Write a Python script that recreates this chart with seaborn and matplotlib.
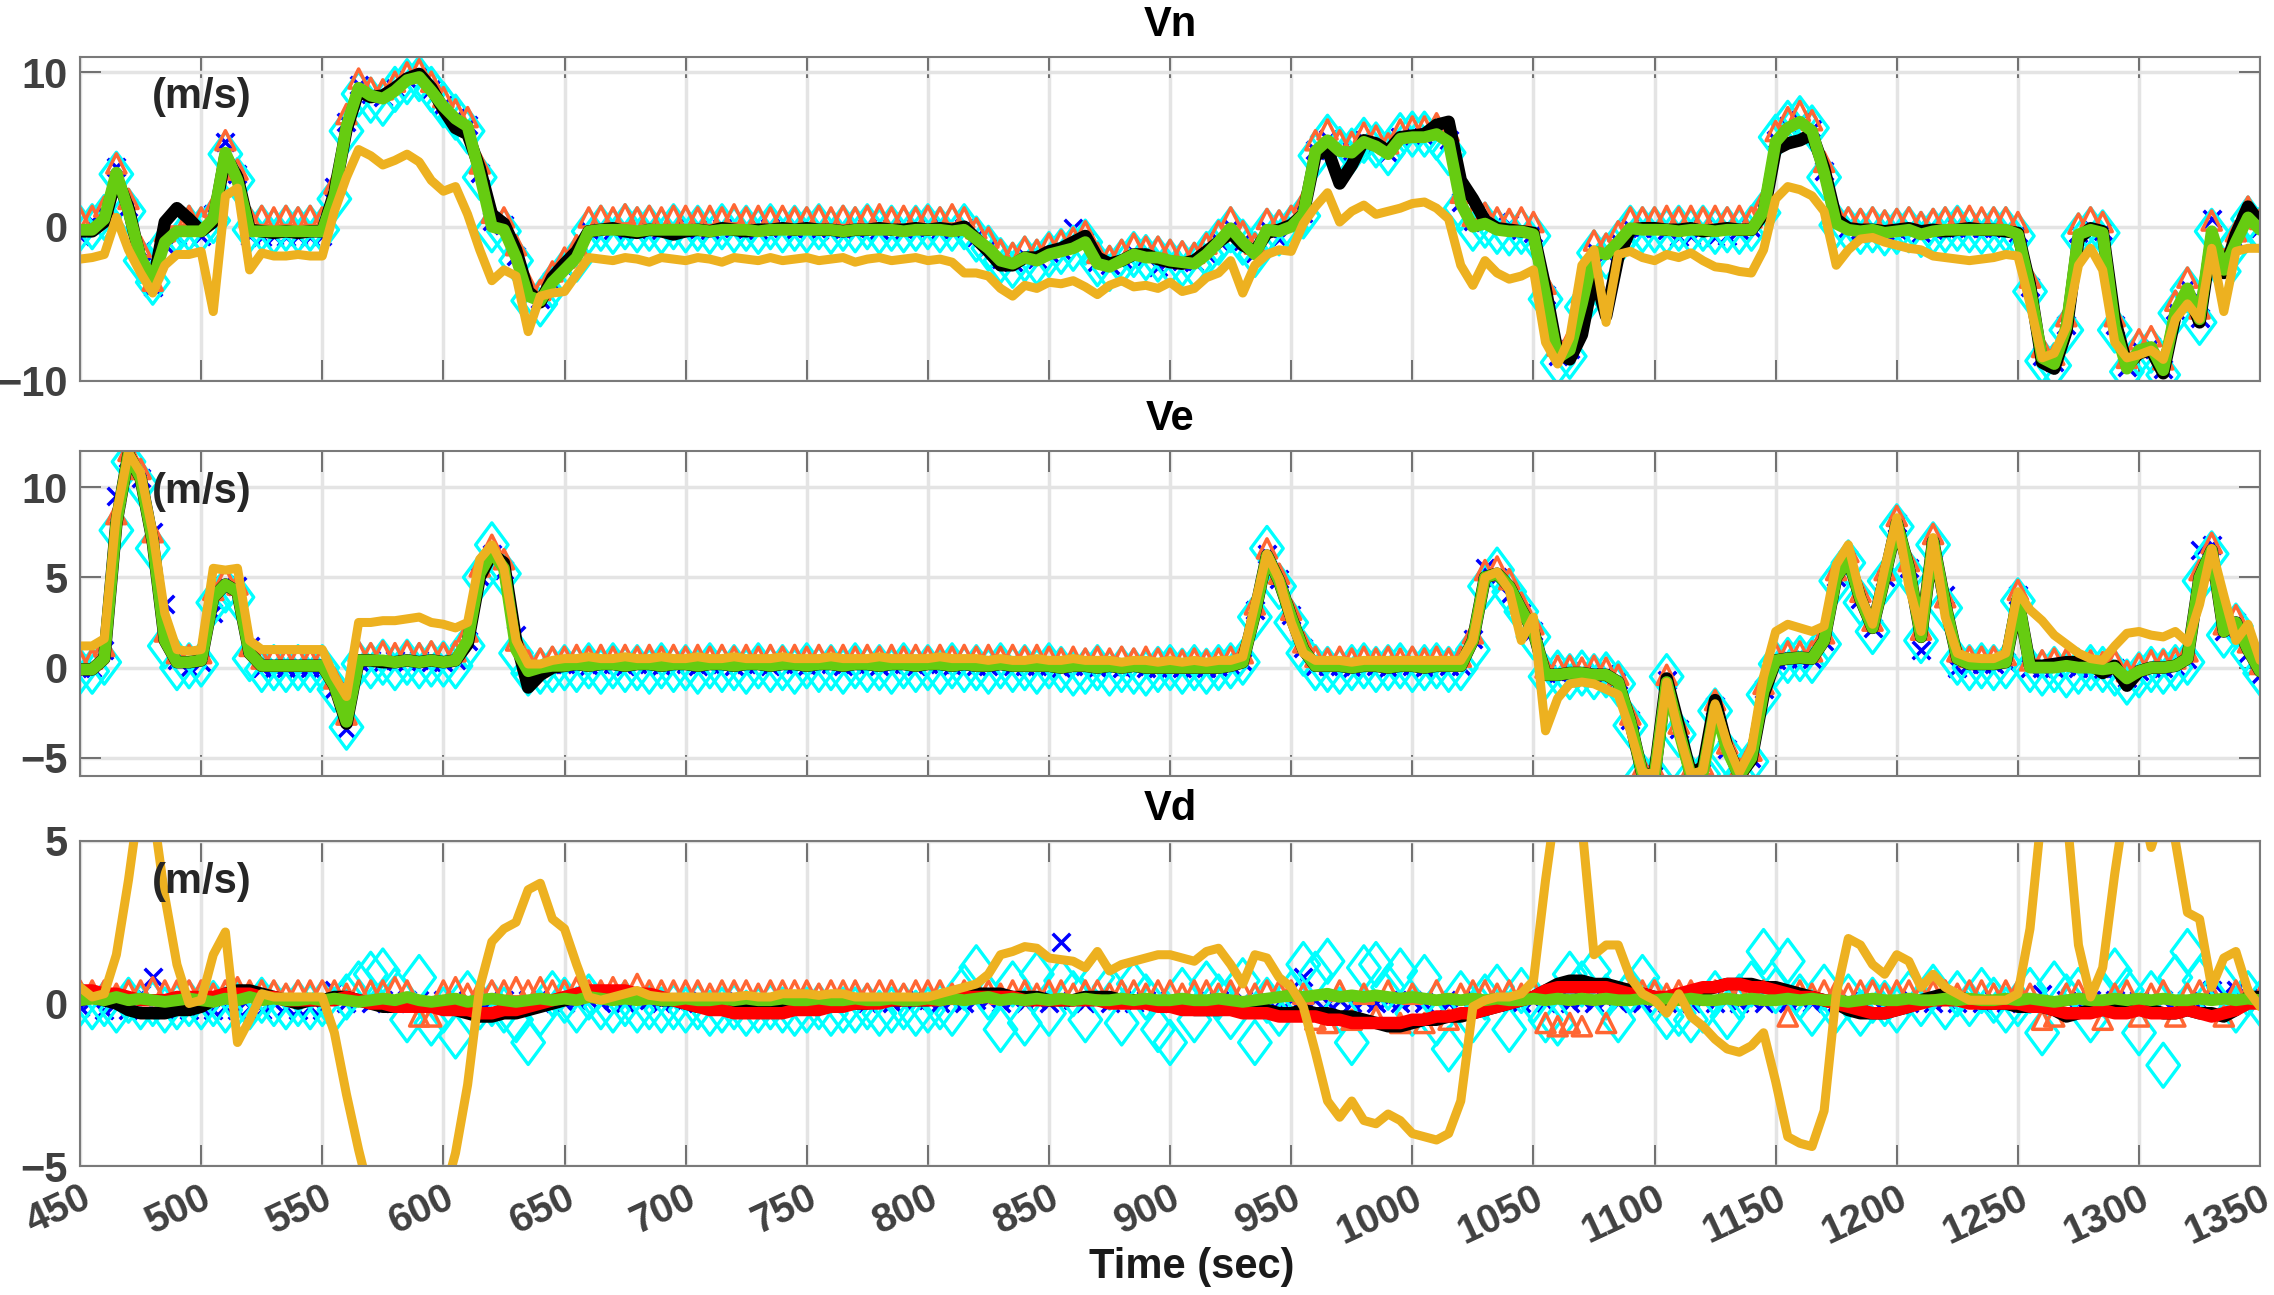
import numpy as np
import seaborn as sns
import matplotlib.pyplot as plt
from matplotlib.path import Path

# sample times (s), one value every 5 s, rows below hold 50 s each
time_s = list(range(450, 1351, 5))

# ---------------- Vn ----------------
vn_green = [
    -0.2, -0.2, 0.5, 3.5, 1.0, -2.0, -3.5, -1.0, -0.3, -0.3,
    -0.3, 0.5, 4.8, 3.0, -0.3, -0.3, -0.3, -0.3, -0.3, -0.3,
    -0.3, 2.0, 6.5, 9.0, 8.5, 8.3, 8.8, 9.5, 9.7, 8.8,
    7.8, 7.0, 6.5, 3.4, 0.0, -0.2, -2.0, -4.5, -4.8, -3.6,
    -2.8, -2.0, -0.3, -0.2, -0.2, -0.2, -0.3, -0.2, -0.2, -0.2,
    -0.2, -0.2, -0.3, -0.2, -0.2, -0.2, -0.3, -0.2, -0.2, -0.2,
    -0.2, -0.2, -0.2, -0.3, -0.2, -0.2, -0.2, -0.2, -0.3, -0.2,
    -0.2, -0.2, -0.3, -0.2, -0.8, -1.4, -2.2, -2.4, -2.0, -2.2,
    -1.8, -1.6, -1.4, -1.0, -2.4, -2.6, -2.2, -1.8, -2.0, -2.0,
    -2.2, -2.3, -2.4, -1.8, -1.0, -0.1, -1.0, -1.8, -0.2, -0.3,
    0.0, 0.8, 4.9, 5.6, 4.9, 4.8, 5.5, 5.2, 4.7, 5.7,
    5.8, 5.8, 6.0, 5.5, 1.5, 0.0, 0.2, -0.2, -0.3, -0.3,
    -0.5, -4.5, -8.5, -8.0, -5.0, -1.6, -1.8, -1.0, -0.1, -0.2,
    -0.2, -0.2, -0.3, -0.2, -0.2, -0.3, -0.2, -0.2, -0.2, 1.0,
    5.5, 6.4, 6.8, 6.2, 3.5, 0.2, -0.2, -0.3, -0.2, -0.4,
    -0.3, -0.2, -0.5, -0.3, -0.2, -0.2, -0.2, -0.2, -0.2, -0.2,
    -0.5, -4.0, -8.5, -8.9, -6.5, -0.5, -0.2, -0.4, -6.5, -9.2,
    -8.0, -7.8, -9.3, -5.5, -4.0, -6.0, -0.3, -2.8, -1.0, 0.6,
    -0.2]
vn_black = [
    -0.3, -0.3, 0.3, 3.2, 1.2, -2.2, -3.8, 0.3, 1.2, 0.5,
    -0.3, 0.3, 4.6, 3.2, -0.2, -0.3, -0.4, -0.3, -0.4, -0.3,
    -0.3, 2.2, 6.3, 8.8, 8.4, 8.5, 9.0, 9.6, 9.9, 9.0,
    7.6, 6.4, 6.0, 3.8, 0.8, 0.2, -1.5, -4.2, -4.9, -3.3,
    -2.4, -1.6, -0.3, -0.2, -0.1, -0.3, -0.4, -0.2, -0.3, -0.5,
    -0.3, -0.2, -0.3, -0.1, -0.2, -0.3, -0.2, -0.2, -0.1, -0.2,
    -0.1, -0.2, -0.2, -0.3, -0.2, -0.2, -0.1, -0.2, -0.2, -0.1,
    -0.2, -0.1, -0.2, 0.0, -0.8, -1.6, -2.5, -2.5, -2.0, -2.0,
    -1.6, -1.4, -1.0, -0.6, -2.0, -2.4, -2.2, -1.8, -1.8, -2.1,
    -2.3, -2.4, -2.2, -1.6, -1.0, -0.4, -1.2, -1.6, -0.4, -0.2,
    0.1, 0.8, 4.6, 5.0, 2.8, 4.0, 5.6, 5.4, 4.9, 5.8,
    5.9, 6.0, 6.6, 6.8, 3.0, 1.8, 0.4, -0.1, -0.2, -0.3,
    -0.4, -4.0, -8.2, -8.6, -7.0, -3.0, -5.8, -2.0, -0.2, -0.1,
    -0.1, -0.2, -0.2, -0.1, -0.3, -0.2, -0.1, -0.2, -0.2, 0.8,
    5.0, 5.4, 5.6, 6.0, 3.8, 0.5, -0.1, -0.2, -0.2, -0.3,
    -0.2, -0.1, -0.3, -0.2, -0.3, -0.2, -0.1, -0.2, -0.2, -0.3,
    -0.4, -3.8, -8.8, -9.2, -6.8, -0.8, -0.1, -0.3, -6.0, -9.0,
    -8.2, -8.0, -9.5, -5.8, -4.2, -6.2, -0.8, -3.0, -0.5, 1.3,
    0.2]
vn_gold = [
    -2.1, -2.0, -1.8, 0.6, -1.5, -3.0, -4.3, -2.5, -1.8, -1.8,
    -1.6, -5.5, 2.0, 2.5, -2.8, -1.7, -1.9, -1.9, -1.8, -1.9,
    -1.9, 1.0, 3.2, 5.0, 4.6, 4.0, 4.3, 4.7, 4.2, 3.0,
    2.3, 2.6, 0.8, -1.5, -3.5, -2.8, -3.2, -6.8, -4.5, -4.3,
    -4.2, -3.1, -2.0, -2.1, -2.2, -2.0, -2.1, -2.3, -2.0, -2.1,
    -2.2, -2.0, -2.1, -2.3, -2.0, -2.1, -2.2, -2.0, -2.2, -2.1,
    -2.0, -2.2, -2.1, -2.0, -2.3, -2.1, -2.0, -2.2, -2.1, -2.0,
    -2.2, -2.1, -2.3, -3.0, -3.0, -3.2, -4.0, -4.5, -3.8, -4.0,
    -3.6, -3.7, -3.5, -3.9, -4.4, -3.8, -3.5, -3.9, -3.8, -4.0,
    -3.6, -4.2, -4.0, -3.3, -3.0, -2.2, -4.3, -2.5, -1.8, -1.5,
    -1.6, 0.2, 1.3, 2.2, 0.3, 1.0, 1.4, 0.8, 1.0, 1.2,
    1.5, 1.6, 1.2, 0.5, -2.5, -3.8, -2.2, -3.0, -3.4, -3.2,
    -2.8, -7.5, -8.9, -7.2, -2.5, -1.5, -6.2, -1.8, -1.6, -2.0,
    -2.2, -1.8, -2.0, -1.7, -2.2, -2.6, -2.7, -2.9, -3.0, -1.5,
    1.8, 2.6, 2.4, 2.0, 1.0, -2.5, -1.5, -0.8, -0.7, -1.0,
    -1.2, -1.4, -1.5, -1.9, -2.0, -2.1, -2.2, -2.1, -2.0, -1.8,
    -1.9, -5.0, -8.5, -8.2, -6.5, -2.5, -1.4, -2.8, -7.5, -8.5,
    -8.3, -8.0, -8.6, -6.0, -5.0, -6.0, -1.4, -5.5, -1.6, -1.4,
    -1.4]
vn_tri = [
    0.6, 0.7, 1.3, 4.1, 1.8, -1.3, -3.5, -0.3, 0.6, 0.7,
    0.6, 1.3, 5.6, 3.7, 0.6, 0.7, 0.6, 0.7, 0.6, 0.7,
    0.6, 2.8, 7.3, 9.6, 9.0, 8.9, 9.4, 10.0, 10.2, 9.4,
    8.4, 7.6, 7.1, 4.1, 0.9, 0.6, -1.2, -3.7, -4.1, -2.9,
    -2.0, -1.2, 0.6, 0.7, 0.6, 0.8, 0.6, 0.7, 0.6, 0.7,
    0.7, 0.6, 0.7, 0.6, 0.8, 0.6, 0.7, 0.6, 0.7, 0.6,
    0.6, 0.7, 0.6, 0.7, 0.6, 0.7, 0.8, 0.6, 0.7, 0.6,
    0.7, 0.6, 0.8, 0.6, -0.1, -0.7, -1.5, -1.7, -1.3, -1.5,
    -1.1, -0.9, -0.7, -0.3, -1.7, -1.9, -1.5, -1.1, -1.3, -1.3,
    -1.5, -1.6, -1.7, -1.1, -0.3, 0.6, -0.3, -1.1, 0.5, 0.4,
    0.7, 1.6, 5.6, 6.3, 5.6, 5.5, 6.1, 5.9, 5.4, 6.3,
    6.5, 6.5, 6.7, 6.2, 2.2, 0.7, 0.9, 0.6, 0.5, 0.6,
    0.3, -3.7, -7.7, -7.3, -4.3, -0.9, -1.1, -0.3, 0.6, 0.6,
    0.6, 0.7, 0.6, 0.7, 0.6, 0.7, 0.6, 0.7, 0.6, 1.7,
    6.2, 7.1, 7.5, 6.9, 4.2, 0.9, 0.6, 0.5, 0.6, 0.4,
    0.5, 0.6, 0.3, 0.5, 0.6, 0.6, 0.7, 0.6, 0.6, 0.6,
    0.3, -3.3, -7.8, -8.3, -5.8, 0.2, 0.6, 0.3, -5.8, -8.5,
    -7.3, -7.1, -8.6, -4.8, -3.3, -5.3, 0.4, -2.1, -0.3, 1.3,
    0.5]
vn_dia = [
    -0.1, 0.0, 0.6, 3.4, 1.0, -2.2, -3.6, -1.2, -0.3, -0.1,
    -0.2, 0.4, 4.7, 3.0, -0.2, -0.1, -0.3, -0.1, -0.2, -0.1,
    -0.2, 1.8, 6.2, 8.6, 8.2, 8.0, 8.9, 9.4, 9.6, 8.9,
    7.9, 7.1, 6.2, 3.2, -0.2, -0.3, -2.2, -4.8, -5.0, -3.8,
    -2.9, -2.1, -0.3, -0.1, -0.3, 0.0, -0.2, -0.1, -0.3, 0.0,
    -0.2, -0.1, -0.3, 0.0, -0.2, -0.1, -0.3, 0.0, -0.2, -0.1,
    -0.2, 0.0, -0.3, -0.1, -0.2, 0.0, -0.3, -0.1, -0.2, -0.1,
    0.0, -0.2, -0.1, 0.0, -0.8, -1.4, -2.2, -2.5, -2.1, -2.3,
    -1.8, -1.6, -1.4, -1.0, -2.4, -2.7, -2.3, -1.8, -2.0, -2.1,
    -2.3, -2.4, -2.5, -1.8, -1.0, -0.2, -1.0, -1.8, -0.3, -0.4,
    -0.1, 0.7, 4.6, 5.8, 5.0, 4.9, 5.6, 5.3, 4.8, 5.9,
    6.0, 6.0, 5.8, 4.8, 1.2, -0.1, 0.1, -0.3, -0.4, -0.3,
    -0.6, -4.7, -8.8, -8.4, -5.2, -1.7, -1.9, -1.1, -0.1, -0.2,
    -0.2, -0.3, -0.1, -0.3, -0.1, -0.3, -0.2, -0.3, -0.1, 0.9,
    5.8, 6.7, 7.0, 6.4, 3.2, 0.1, -0.2, -0.3, -0.2, -0.4,
    -0.3, -0.2, -0.5, -0.3, -0.2, -0.1, -0.2, -0.3, -0.2, -0.2,
    -0.6, -4.2, -8.7, -9.0, -6.7, -0.6, -0.2, -0.4, -6.7, -9.4,
    -8.2, -8.0, -9.6, -5.6, -4.1, -6.2, -0.3, -2.9, -1.1, 0.5,
    -0.2]
vn_x = [
    -0.6, 0.4, 0.8, 3.9, 1.3, -1.6, -3.9, -1.2, -0.6, 0.4,
    -0.6, 0.8, 5.5, 3.4, -0.6, -0.7, -0.6, -0.7, -0.6, -0.7,
    -0.6, 2.6, 6.8, 9.2, 8.6, 8.4, 9.0, 9.6, 9.8, 8.9,
    7.9, 7.1, 6.6, 3.5, 0.4, 0.1, -1.9, -4.4, -4.7, -3.5,
    -2.7, -1.9, -0.2, -0.1, -0.2, -0.1, -0.2, -0.1, -0.2, -0.1,
    -0.1, -0.2, -0.2, -0.1, -0.1, -0.2, -0.2, -0.1, -0.1, -0.2,
    -0.1, -0.2, -0.1, -0.2, -0.1, -0.1, -0.2, -0.1, -0.2, -0.1,
    -0.1, -0.2, -0.2, -0.1, -0.7, -1.3, -2.1, -2.3, -1.9, -2.1,
    -1.7, -1.5, -0.1, -0.9, -2.3, -2.5, -2.1, -1.7, -1.9, -2.6,
    -2.1, -2.2, -2.3, -1.7, -0.9, 0.0, -0.9, -1.7, -0.1, -0.8,
    0.1, 0.9, 5.0, 5.7, 5.0, 4.9, 5.6, 5.3, 4.8, 5.8,
    5.9, 5.9, 6.1, 5.6, 1.6, 0.4, 0.3, 0.3, 0.2, -0.2,
    -0.4, -4.4, -8.4, -7.9, -4.9, -1.5, -1.7, -0.9, 0.0, -0.1,
    -0.1, -0.2, -0.7, -0.6, -0.1, -0.7, -0.6, -0.2, -0.1, 1.1,
    5.6, 6.5, 6.9, 6.3, 3.6, 0.3, -0.1, -0.2, -0.1, -0.3,
    -0.2, -0.1, -0.4, -0.2, -0.1, -0.1, -0.1, -0.1, -0.1, -0.1,
    -0.4, -3.9, -8.4, -8.8, -6.4, -0.4, -0.1, -0.3, -6.4, -9.1,
    -7.9, -7.7, -9.2, -5.4, -3.9, -5.9, 0.5, -2.7, -0.9, 0.7,
    -0.1]

# ---------------- Ve ----------------
ve_green = [
    -0.1, -0.1, 0.5, 8.0, 11.8, 10.5, 7.0, 1.5, 0.3, 0.3,
    0.4, 3.9, 4.6, 4.2, 0.8, 0.1, 0.1, 0.1, 0.1, 0.1,
    0.1, -1.0, -3.0, 0.4, 0.4, 0.4, 0.3, 0.4, 0.3, 0.4,
    0.3, 0.4, 1.5, 5.2, 6.4, 5.5, 1.0, -0.2, 0.0, 0.1,
    0.1, 0.2, 0.1, 0.2, 0.2, 0.1, 0.2, 0.2, 0.1, 0.2,
    0.2, 0.1, 0.2, 0.2, 0.1, 0.2, 0.2, 0.1, 0.2, 0.2,
    0.1, 0.2, 0.2, 0.1, 0.2, 0.2, 0.1, 0.2, 0.2, 0.1,
    0.2, 0.2, 0.1, 0.2, 0.1, 0.1, 0.2, 0.1, 0.1, 0.1,
    0.1, 0.0, 0.1, 0.1, 0.0, 0.1, 0.0, 0.1, 0.0, 0.0,
    0.0, 0.0, 0.0, 0.0, 0.0, 0.1, 0.3, 3.0, 6.2, 4.8,
    2.8, 1.0, 0.1, 0.1, 0.1, 0.0, 0.1, 0.1, 0.0, 0.1,
    0.1, 0.0, 0.1, 0.1, 0.1, 1.5, 5.0, 5.2, 4.5, 3.2,
    2.0, -0.4, -0.4, -0.3, -0.3, -0.4, -0.4, -0.8, -3.0, -5.9,
    -6.0, -0.8, -3.5, -6.0, -5.8, -2.2, -4.6, -6.0, -5.0, -1.3,
    0.4, 0.5, 0.55, 0.5, 1.5, 5.0, 6.0, 3.8, 2.2, 5.0,
    8.0, 5.5, 1.7, 7.0, 3.5, 0.5, 0.2, 0.2, 0.2, 0.3,
    3.9, 0.0, 0.0, 0.0, 0.1, 0.0, 0.0, -0.1, 0.0, -0.6,
    -0.2, 0.0, 0.0, 0.1, 0.5, 5.0, 6.5, 2.0, 2.5, 1.0,
    -0.2]
ve_black = [
    -0.1, -0.1, 0.5, 8.0, 11.8, 10.5, 7.0, 1.5, 0.3, 0.3,
    0.4, 3.9, 4.6, 4.2, 0.8, 0.1, 0.1, 0.1, 0.1, 0.1,
    0.1, -1.0, -3.1, 0.4, 0.4, 0.3, 0.3, 0.4, 0.3, 0.4,
    0.3, 0.4, 1.3, 5.0, 6.3, 5.8, 1.5, -1.1, -0.4, 0.0,
    0.1, 0.2, 0.1, 0.2, 0.2, 0.1, 0.2, 0.2, 0.1, 0.2,
    0.2, 0.1, 0.2, 0.2, 0.1, 0.2, 0.2, 0.1, 0.2, 0.2,
    0.1, 0.2, 0.2, 0.1, 0.2, 0.2, 0.1, 0.2, 0.2, 0.1,
    0.2, 0.2, 0.1, 0.2, 0.1, 0.1, 0.2, 0.1, 0.1, 0.1,
    0.1, 0.0, 0.1, 0.1, 0.0, 0.1, 0.0, 0.1, 0.0, 0.0,
    0.0, 0.0, 0.0, 0.0, 0.0, 0.1, 0.3, 3.0, 6.2, 4.8,
    2.8, 1.0, 0.1, 0.1, 0.1, 0.0, 0.1, 0.1, 0.0, 0.1,
    0.1, 0.0, 0.1, 0.1, 0.1, 1.5, 5.0, 5.2, 4.5, 3.2,
    2.0, -0.4, -0.4, -0.3, -0.3, -0.4, -0.4, -0.8, -3.0, -5.9,
    -5.9, -0.6, -3.2, -5.9, -5.5, -1.8, -4.4, -6.0, -5.1, -1.5,
    0.4, 0.5, 0.55, 0.5, 1.5, 5.0, 6.0, 3.8, 2.2, 5.0,
    8.0, 5.5, 1.7, 7.0, 3.5, 0.5, 0.2, 0.2, 0.2, 0.3,
    3.8, 0.1, 0.1, 0.2, 0.3, 0.3, 0.2, -0.3, 0.1, -1.0,
    -0.2, 0.0, 0.0, 0.1, 0.5, 5.0, 6.5, 2.0, 2.5, 1.0,
    -0.2]
ve_gold = [
    1.2, 1.2, 1.6, 8.5, 11.9, 10.8, 7.5, 3.0, 1.0, 0.9,
    1.0, 5.5, 5.4, 5.5, 1.5, 1.0, 1.0, 1.0, 1.0, 1.0,
    1.0, -0.5, -1.6, 2.5, 2.5, 2.6, 2.6, 2.7, 2.8, 2.5,
    2.4, 2.2, 2.5, 6.0, 6.8, 5.5, 1.5, 0.2, 0.2, 0.4,
    0.5, 0.5, 0.6, 0.5, 0.5, 0.6, 0.5, 0.5, 0.6, 0.5,
    0.5, 0.6, 0.5, 0.5, 0.6, 0.5, 0.5, 0.5, 0.6, 0.5,
    0.5, 0.5, 0.6, 0.5, 0.5, 0.5, 0.6, 0.5, 0.5, 0.5,
    0.5, 0.6, 0.5, 0.5, 0.5, 0.4, 0.5, 0.4, 0.4, 0.5,
    0.4, 0.4, 0.5, 0.4, 0.4, 0.4, 0.3, 0.4, 0.4, 0.3,
    0.4, 0.3, 0.4, 0.3, 0.4, 0.4, 0.6, 3.5, 6.3, 4.9,
    2.5, 0.8, 0.4, 0.4, 0.4, 0.3, 0.4, 0.4, 0.4, 0.4,
    0.4, 0.4, 0.4, 0.4, 0.4, 1.5, 5.0, 5.3, 4.3, 1.5,
    2.8, -3.5, -1.7, -0.9, -0.8, -0.9, -1.2, -1.5, -3.5, -5.8,
    -5.9, -0.8, -3.6, -5.9, -5.7, -2.0, -4.2, -5.8, -4.5, -0.5,
    2.0, 2.4, 2.2, 2.0, 2.3, 5.7, 6.8, 4.0, 2.4, 5.5,
    8.3, 4.5, 2.0, 7.2, 2.8, 0.8, 0.55, 0.5, 0.5, 0.8,
    4.2, 3.2, 2.6, 1.8, 1.3, 0.8, 0.5, 0.4, 1.2, 1.9,
    2.0, 1.8, 1.7, 2.0, 1.4, 3.5, 6.6, 4.0, 1.5, 2.4,
    0.4]
ve_tri = [
    0.4, 0.5, 1.2, 8.5, 12.0, 11.0, 7.5, 2.0, 0.8, 0.7,
    0.8, 4.3, 5.0, 4.6, 1.2, 0.5, 0.6, 0.5, 0.6, 0.5,
    0.6, -0.6, -2.6, 0.9, 0.8, 0.9, 0.8, 0.9, 0.8, 0.9,
    0.8, 0.9, 2.0, 5.6, 6.8, 6.0, 1.5, 0.4, 0.5, 0.6,
    0.6, 0.7, 0.6, 0.7, 0.6, 0.7, 0.6, 0.7, 0.6, 0.7,
    0.6, 0.7, 0.6, 0.7, 0.6, 0.7, 0.6, 0.7, 0.6, 0.7,
    0.6, 0.7, 0.6, 0.7, 0.6, 0.7, 0.6, 0.7, 0.6, 0.7,
    0.6, 0.7, 0.6, 0.7, 0.6, 0.7, 0.6, 0.7, 0.6, 0.7,
    0.6, 0.5, 0.6, 0.5, 0.6, 0.5, 0.6, 0.5, 0.6, 0.5,
    0.5, 0.4, 0.5, 0.4, 0.5, 0.6, 0.8, 3.5, 6.6, 5.2,
    3.2, 1.4, 0.6, 0.5, 0.6, 0.5, 0.6, 0.5, 0.6, 0.5,
    0.6, 0.5, 0.6, 0.5, 0.6, 1.9, 5.4, 5.6, 4.9, 3.6,
    2.4, 0.0, 0.1, 0.1, 0.0, 0.1, 0.0, -0.4, -2.6, -5.5,
    -5.6, -0.4, -3.1, -5.6, -5.4, -1.8, -4.2, -5.6, -4.6, -0.9,
    0.8, 0.9, 0.9, 0.9, 1.9, 5.4, 6.4, 4.2, 2.6, 5.4,
    8.4, 5.9, 2.1, 7.4, 3.9, 0.9, 0.6, 0.6, 0.6, 0.7,
    4.3, 0.4, 0.4, 0.5, 0.5, 0.4, 0.4, 0.3, 0.4, -0.2,
    0.2, 0.4, 0.4, 0.5, 0.9, 5.4, 6.9, 2.4, 2.9, 1.4,
    0.2]
ve_dia = [
    -0.2, -0.2, 0.3, 7.6, 11.4, 10.2, 6.6, 1.2, 0.0, 0.1,
    0.2, 3.6, 4.3, 3.9, 0.5, -0.1, 0.0, -0.1, 0.0, -0.1,
    0.0, -1.2, -3.3, 0.2, 0.1, 0.3, 0.0, 0.3, 0.1, 0.2,
    0.2, 0.1, 1.2, 5.0, 6.8, 5.2, 0.8, -0.3, -0.2, -0.1,
    0.0, -0.1, 0.1, -0.2, 0.1, -0.1, 0.0, -0.2, 0.1, -0.1,
    0.0, -0.2, 0.1, -0.1, 0.0, -0.2, 0.1, -0.1, 0.0, -0.2,
    0.1, -0.1, 0.0, -0.2, 0.1, -0.1, 0.0, -0.2, 0.1, -0.1,
    0.0, -0.2, 0.1, -0.1, 0.0, -0.2, 0.1, -0.1, 0.0, -0.2,
    0.1, -0.1, -0.3, -0.2, 0.0, -0.3, -0.1, -0.2, -0.3, -0.1,
    0.0, -0.2, 0.0, -0.2, 0.0, 0.1, 0.3, 2.8, 6.6, 4.5,
    2.5, 0.8, 0.0, -0.1, -0.2, 0.0, 0.1, -0.1, 0.0, 0.1,
    -0.1, 0.0, 0.1, -0.1, 0.0, 1.0, 4.5, 5.4, 4.2, 3.1,
    1.7, -0.5, -0.3, -0.5, -0.3, -0.5, -0.4, -0.9, -3.2, -6.0,
    -6.0, -0.5, -3.7, -6.1, -5.9, -2.4, -4.8, -6.1, -5.2, -1.5,
    0.2, 0.4, 0.5, 0.4, 1.3, 4.8, 5.8, 3.6, 2.0, 4.8,
    7.8, 5.2, 1.5, 6.8, 3.3, 0.3, 0.0, 0.1, 0.0, 0.1,
    3.7, -0.1, -0.3, -0.1, -0.4, -0.2, 0.0, -0.1, -0.3, -0.8,
    -0.4, -0.1, -0.2, 0.0, 0.3, 4.8, 6.3, 1.8, 2.3, 0.8,
    -0.3]
ve_x = [
    0.0, 0.0, 1.0, 9.5, 11.6, 10.5, 7.5, 3.5, 0.4, 0.0,
    0.3, 3.0, 4.6, 4.5, 1.2, 0.0, 0.0, 0.0, 0.0, 0.0,
    0.0, -1.2, -3.4, 0.3, 0.4, 0.3, 0.4, 0.3, 0.4, 0.3,
    0.3, 0.4, 1.5, 5.0, 6.3, 5.4, 1.8, 0.0, 0.1, 0.2,
    0.2, 0.2, 0.1, 0.2, 0.2, 0.1, 0.2, 0.2, 0.1, 0.2,
    0.2, 0.1, 0.2, 0.2, 0.1, 0.2, 0.2, 0.1, 0.2, 0.2,
    0.1, 0.2, 0.2, 0.1, 0.2, 0.2, 0.1, 0.2, 0.2, 0.1,
    0.2, 0.2, 0.1, 0.2, 0.1, 0.1, 0.2, 0.1, 0.1, 0.1,
    0.1, 0.0, 0.1, 0.1, 0.0, 0.1, 0.0, 0.1, 0.0, 0.0,
    0.0, 0.0, 0.0, 0.0, 0.0, 0.1, 0.3, 3.2, 6.3, 4.9,
    2.9, 1.1, 0.1, 0.1, 0.1, 0.0, 0.1, 0.1, 0.0, 0.1,
    0.1, 0.0, 0.1, 0.1, 0.1, 1.6, 5.5, 5.0, 4.0, 3.0,
    2.0, -0.3, -0.3, -0.2, -0.3, -0.3, -0.3, -0.7, -2.9, -5.8,
    -5.9, -0.7, -3.4, -5.9, -5.7, -2.1, -4.5, -6.0, -5.0, -1.2,
    0.4, 0.5, 0.5, 0.5, 1.5, 5.0, 6.0, 3.8, 2.2, 5.0,
    8.0, 5.5, 1.0, 6.6, 4.0, 0.0, 0.2, 0.2, 0.2, 0.3,
    4.0, 0.0, 0.0, 0.0, 0.1, 0.0, 0.0, -0.1, 0.0, -0.6,
    -0.2, 0.0, 0.0, 0.1, 0.5, 6.5, 6.8, 2.0, 2.5, 0.8,
    -0.4]

# ---------------- Vd ----------------
vd_green = [
    0.10, 0.15, 0.10, 0.20, 0.10, 0.15, 0.10, 0.05, 0.10, 0.15,
    0.10, 0.05, 0.15, 0.10, 0.20, 0.10, 0.15, 0.10, 0.10, 0.15,
    0.10, 0.15, 0.10, 0.05, 0.10, 0.15, 0.10, 0.20, 0.10, 0.05,
    0.10, 0.15, 0.05, 0.10, 0.15, 0.10, 0.05, 0.10, 0.15, 0.10,
    0.15, 0.10, 0.20, 0.15, 0.10, 0.15, 0.10, 0.15, 0.10, 0.10,
    0.15, 0.10, 0.10, 0.15, 0.10, 0.15, 0.10, 0.10, 0.15, 0.10,
    0.10, 0.15, 0.10, 0.10, 0.15, 0.10, 0.10, 0.15, 0.10, 0.10,
    0.15, 0.10, 0.15, 0.10, 0.15, 0.20, 0.10, 0.15, 0.10, 0.15,
    0.10, 0.15, 0.10, 0.15, 0.10, 0.10, 0.15, 0.10, 0.15, 0.10,
    0.10, 0.15, 0.10, 0.10, 0.15, 0.10, 0.05, 0.10, 0.15, 0.20,
    0.25, 0.20, 0.25, 0.30, 0.20, 0.25, 0.20, 0.25, 0.20, 0.15,
    0.20, 0.15, 0.10, 0.15, 0.10, 0.15, 0.10, 0.15, 0.10, 0.10,
    0.15, 0.10, 0.15, 0.10, 0.15, 0.10, 0.15, 0.10, 0.10, 0.15,
    0.10, 0.15, 0.10, 0.15, 0.10, 0.10, 0.15, 0.10, 0.15, 0.10,
    0.10, 0.15, 0.10, 0.15, 0.10, 0.10, 0.05, 0.10, 0.15, 0.10,
    0.10, 0.15, 0.10, 0.10, 0.15, 0.10, 0.15, 0.10, 0.10, 0.15,
    0.10, 0.15, 0.10, 0.05, 0.10, 0.15, 0.10, 0.10, 0.15, 0.10,
    0.15, 0.10, 0.15, 0.10, 0.10, 0.15, 0.10, 0.15, 0.10, 0.15,
    0.10]
vd_black = [
    0.1, 0.2, 0.1, 0.0, -0.2, -0.3, -0.3, -0.3, -0.2, -0.2,
    -0.1, 0.1, 0.3, 0.4, 0.4, 0.3, 0.2, 0.1, 0.0, 0.1,
    0.1, 0.2, 0.2, 0.1, 0.0, -0.1, -0.1, 0.0, -0.1, 0.0,
    -0.1, -0.2, -0.3, -0.4, -0.4, -0.3, -0.3, -0.2, -0.1, 0.0,
    0.1, 0.2, 0.3, 0.3, 0.3, 0.3, 0.2, 0.2, 0.1, 0.1,
    0.0, -0.1, -0.1, -0.1, -0.2, -0.2, -0.2, -0.2, -0.1, -0.1,
    -0.1, -0.1, -0.1, 0.0, 0.0, 0.0, 0.1, 0.1, 0.1, 0.1,
    0.1, 0.2, 0.2, 0.2, 0.3, 0.3, 0.3, 0.2, 0.2, 0.2,
    0.1, 0.1, 0.1, 0.2, 0.2, 0.2, 0.1, 0.1, 0.1, 0.0,
    -0.1, -0.1, -0.2, -0.2, -0.2, -0.1, -0.1, -0.2, -0.2, -0.3,
    -0.3, -0.2, -0.3, -0.3, -0.4, -0.4, -0.5, -0.6, -0.7, -0.7,
    -0.6, -0.5, -0.5, -0.4, -0.4, -0.3, -0.2, -0.1, 0.0, 0.1,
    0.2, 0.4, 0.6, 0.7, 0.7, 0.6, 0.6, 0.5, 0.4, 0.3,
    0.2, 0.1, 0.2, 0.3, 0.4, 0.5, 0.6, 0.6, 0.6, 0.5,
    0.5, 0.4, 0.3, 0.2, 0.1, 0.0, -0.2, -0.3, -0.3, -0.3,
    -0.2, -0.1, 0.1, 0.2, 0.3, 0.2, 0.1, 0.0, 0.0, 0.0,
    -0.1, -0.1, -0.1, -0.2, -0.4, -0.3, -0.2, -0.1, -0.2, -0.2,
    -0.1, -0.2, -0.3, -0.3, -0.2, -0.3, -0.3, -0.4, -0.2, 0.2,
    0.2]
vd_red = [
    0.4, 0.4, 0.3, 0.3, 0.2, 0.1, 0.1, 0.1, 0.2, 0.2,
    0.2, 0.2, 0.3, 0.3, 0.3, 0.2, 0.2, 0.1, 0.1, 0.1,
    0.1, 0.1, 0.2, 0.1, 0.0, 0.0, -0.1, -0.1, -0.1, -0.1,
    -0.2, -0.2, -0.2, -0.3, -0.3, -0.2, -0.2, -0.1, 0.0, 0.1,
    0.2, 0.3, 0.4, 0.4, 0.4, 0.4, 0.3, 0.3, 0.2, 0.1,
    0.0, -0.1, -0.2, -0.2, -0.3, -0.3, -0.3, -0.3, -0.3, -0.2,
    -0.2, -0.2, -0.1, -0.1, 0.0, 0.0, 0.0, 0.1, 0.1, 0.1,
    0.1, 0.1, 0.2, 0.2, 0.2, 0.2, 0.2, 0.2, 0.1, 0.1,
    0.1, 0.1, 0.1, 0.1, 0.1, 0.0, 0.0, 0.0, 0.0, -0.1,
    -0.1, -0.2, -0.2, -0.2, -0.2, -0.2, -0.3, -0.3, -0.3, -0.4,
    -0.4, -0.4, -0.4, -0.5, -0.5, -0.6, -0.6, -0.6, -0.6, -0.6,
    -0.5, -0.5, -0.4, -0.4, -0.3, -0.3, -0.2, -0.1, 0.0, 0.1,
    0.2, 0.4, 0.5, 0.5, 0.5, 0.5, 0.5, 0.4, 0.3, 0.3,
    0.2, 0.2, 0.3, 0.4, 0.5, 0.5, 0.6, 0.6, 0.5, 0.5,
    0.4, 0.3, 0.2, 0.2, 0.1, 0.0, -0.1, -0.2, -0.3, -0.3,
    -0.2, -0.1, 0.0, 0.1, 0.1, 0.1, 0.0, 0.0, 0.0, 0.0,
    0.0, -0.1, -0.1, -0.2, -0.3, -0.3, -0.3, -0.2, -0.3, -0.3,
    -0.2, -0.3, -0.3, -0.3, -0.2, -0.3, -0.4, -0.3, -0.2, 0.0,
    0.0]
vd_gold = [
    0.5, 0.2, 0.3, 1.5, 3.8, 6.5, 6.0, 3.3, 1.2, 0.0,
    0.1, 1.5, 2.2, -1.2, -0.5, 0.3, 0.2, 0.2, 0.2, 0.2,
    0.2, -0.9, -2.8, -4.5, -6.0, -7.0, -7.0, -7.0, -7.0, -7.0,
    -6.0, -4.6, -2.5, 0.5, 1.9, 2.3, 2.5, 3.5, 3.7, 2.6,
    2.3, 1.2, 0.2, 0.1, 0.2, 0.3, 0.4, 0.25, 0.2, 0.2,
    0.2, 0.2, 0.2, 0.2, 0.2, 0.25, 0.2, 0.2, 0.3, 0.3,
    0.3, 0.25, 0.3, 0.3, 0.2, 0.2, 0.2, 0.2, 0.2, 0.2,
    0.2, 0.3, 0.4, 0.5, 0.6, 0.9, 1.5, 1.6, 1.75, 1.7,
    1.4, 1.35, 1.3, 1.1, 1.6, 1.0, 1.2, 1.3, 1.4, 1.5,
    1.5, 1.4, 1.3, 1.6, 1.7, 1.2, 0.6, 1.5, 1.4, 0.8,
    0.5, -0.1, -1.5, -3.0, -3.5, -3.0, -3.6, -3.7, -3.4, -3.6,
    -4.0, -4.1, -4.2, -4.0, -3.0, -0.1, 0.1, 0.2, 0.2, 0.3,
    0.7, 3.8, 6.5, 7.0, 5.5, 1.5, 1.8, 1.8, 0.8, 0.3,
    0.1, -0.3, 0.3, -0.4, -0.7, -1.1, -1.4, -1.5, -1.3, -0.9,
    -2.4, -4.1, -4.3, -4.4, -3.3, 0.3, 2.0, 1.8, 1.2, 0.9,
    1.5, 1.3, 0.5, 0.9, 0.5, 0.3, 0.1, 0.1, 0.1, 0.1,
    0.3, 2.3, 6.0, 7.0, 6.0, 1.8, 0.2, 1.1, 4.0, 6.5,
    6.5, 4.8, 6.0, 5.0, 2.8, 2.6, 0.5, 1.4, 1.6, 0.4,
    -0.1]
vd_tri = [
    0.4, 0.4, 0.4, 0.3, 0.4, 0.4, 0.5, 0.4, 0.4, 0.4,
    0.4, 0.3, 0.4, 0.5, 0.4, 0.4, 0.4, 0.3, 0.4, 0.4,
    0.4, 0.4, 0.3, 0.4, 0.4, 0.4, 0.5, 0.4, -0.4, -0.4,
    0.4, 0.5, 0.3, 0.4, 0.4, 0.4, 0.5, 0.4, 0.5, 0.4,
    0.4, 0.5, 0.4, 0.4, 0.5, 0.4, 0.6, 0.4, 0.4, 0.4,
    0.4, 0.4, 0.3, 0.4, 0.4, 0.4, 0.3, 0.4, 0.4, 0.4,
    0.4, 0.3, 0.4, 0.4, 0.4, 0.3, 0.4, 0.4, 0.3, 0.4,
    0.4, 0.4, 0.3, 0.4, 0.4, 0.4, 0.3, 0.4, 0.4, 0.3,
    0.4, 0.4, 0.3, 0.4, 0.4, 0.3, 0.4, 0.4, 0.3, 0.4,
    0.4, 0.3, 0.4, 0.4, 0.3, 0.4, 0.4, 0.3, 0.4, 0.4,
    0.4, 0.3, -0.5, -0.6, 0.4, -0.5, 0.3, -0.4, 0.4, -0.6,
    0.3, -0.6, 0.4, -0.5, 0.3, 0.4, 0.4, 0.3, 0.4, 0.3,
    0.4, -0.6, -0.7, -0.6, -0.7, 0.4, -0.6, 0.3, 0.4, 0.4,
    0.4, 0.3, 0.4, 0.4, 0.3, 0.4, 0.4, 0.3, 0.4, 0.4,
    0.3, -0.4, 0.4, 0.3, 0.4, 0.4, 0.3, 0.4, 0.4, 0.3,
    0.4, 0.4, 0.3, 0.4, 0.4, 0.3, 0.4, 0.4, 0.3, 0.4,
    0.4, 0.3, -0.5, -0.4, 0.3, 0.4, 0.3, -0.5, 0.3, 0.4,
    -0.4, 0.3, 0.4, -0.4, 0.3, 0.4, 0.3, -0.4, 0.4, 0.3,
    0.2]
vd_dia = [
    0.0, -0.1, 0.0, -0.2, 0.1, -0.1, 0.0, -0.2, -0.1, 0.0,
    -0.1, 0.0, -0.2, 0.0, -0.1, 0.1, 0.0, -0.1, 0.0, -0.1,
    0.0, -0.2, 0.2, 0.6, 0.9, 1.0, 0.4, -0.5, 0.8, -0.6,
    -0.2, -1.0, 0.3, -0.1, 0.0, -0.2, -0.5, -1.2, -0.3, 0.3,
    0.1, -0.2, 0.2, -0.1, -0.2, 0.0, -0.2, -0.1, -0.2, -0.1,
    -0.2, -0.1, -0.3, -0.2, -0.1, -0.3, -0.2, -0.1, -0.2, -0.3,
    -0.2, -0.1, -0.3, -0.2, -0.2, -0.1, -0.3, -0.2, -0.1, -0.3,
    -0.2, -0.1, -0.3, 0.5, 1.1, 0.2, -0.8, 0.6, -0.6, 0.9,
    -0.3, 0.7, 0.3, -0.5, 0.8, 0.5, -0.6, 0.6, 0.2, -0.8,
    -1.2, 0.4, -0.5, 0.6, 0.2, -0.4, 0.7, -1.2, 0.1, -0.3,
    0.3, 1.2, 0.9, 1.3, -0.2, -1.2, 1.1, 1.2, 0.5, 1.0,
    -0.3, 0.8, -0.6, -1.4, 0.3, -0.5, 0.2, 0.5, -0.8, 0.4,
    0.1, -0.5, -0.6, 0.9, 0.6, 1.0, 0.2, -0.5, 0.4, 0.8,
    0.1, -0.4, -0.3, -0.5, -0.2, 0.3, -0.4, 0.2, 0.6, 1.6,
    0.4, 1.3, 0.2, -0.3, 0.5, -0.2, 0.2, -0.3, 0.1, 0.0,
    -0.2, 0.3, 0.0, 0.5, -0.1, 0.3, 0.0, 0.4, 0.1, -0.2,
    0.0, 0.4, -0.9, 0.6, 0.2, 0.4, -0.5, 0.3, 1.0, 0.4,
    -0.9, 0.3, -1.9, 0.8, 1.6, 0.7, 0.2, 0.5, -0.2, 0.3,
    0.0]
vd_x = [
    -0.1, 0.1, -0.2, 0.0, -0.2, 0.3, 0.8, -0.2, -0.1, -0.2,
    -0.1, -0.2, -0.1, -0.2, -0.1, -0.2, 0.0, -0.1, -0.2, -0.1,
    -0.2, 0.4, 0.0, 0.1, 0.0, 0.1, 0.0, 0.1, 0.1, 0.0,
    0.1, 0.0, 0.1, 0.0, 0.1, 0.1, 0.0, 0.1, 0.0, 0.1,
    0.0, 0.1, 0.1, 0.0, 0.1, 0.0, 0.1, 0.1, 0.0, 0.1,
    0.1, 0.0, 0.1, 0.1, 0.0, 0.1, 0.0, 0.1, 0.1, 0.0,
    0.0, 0.1, 0.0, 0.1, 0.1, 0.0, 0.1, 0.0, 0.1, 0.1,
    0.1, 0.0, 0.1, 0.0, 0.1, 0.1, 0.0, 0.1, 0.0, 0.1,
    0.0, 1.9, 0.1, 0.0, 0.1, 0.0, 0.1, 0.0, 0.1, 0.0,
    0.1, 0.0, 0.1, 0.0, 0.1, 0.0, 0.1, 0.0, 0.1, 0.0,
    0.1, 0.8, 0.1, 0.0, 0.1, 0.0, 0.1, 0.0, 0.1, 0.0,
    0.1, 0.0, 0.1, 0.0, 0.1, 0.0, 0.1, 0.0, 0.1, 0.0,
    0.1, 0.0, 0.1, 0.0, 0.1, 0.0, 0.1, 0.0, 0.1, 0.0,
    0.1, 0.0, 0.1, 0.0, 0.1, 0.0, 0.1, 0.0, 0.1, 0.0,
    0.1, 0.0, 0.1, 0.0, 0.1, 0.0, 0.1, 0.0, 0.1, 0.0,
    0.1, 0.0, 0.1, 0.0, 0.1, 0.0, 0.1, 0.0, 0.1, 0.0,
    0.1, 0.0, 0.3, 0.0, 0.1, 0.0, 0.1, 0.0, 0.1, 0.0,
    0.1, 0.0, 0.1, 0.0, 0.1, 0.0, 0.4, 0.3, 0.4, 0.2,
    0.1]

x_ticks = list(range(450, 1351, 50))

sns.set_theme(style="whitegrid")
plt.rcParams['font.family'] = ['Liberation Sans', 'DejaVu Sans']
plt.rcParams['font.weight'] = 'bold'

# tall open diamond like the MATLAB one in the picture
diamond = Path([(0, 1), (0.74, 0), (0, -1), (-0.74, 0), (0, 1)],
               [Path.MOVETO, Path.LINETO, Path.LINETO, Path.LINETO, Path.CLOSEPOLY])

fig = plt.figure(figsize=(22.74, 12.95), dpi=100)
ax1 = fig.add_axes([0.0352, 0.7058, 0.9587, 0.2502])
ax2 = fig.add_axes([0.0352, 0.4008, 0.9587, 0.2510])
ax3 = fig.add_axes([0.0352, 0.0996, 0.9587, 0.2510])


def draw(ax, xs, dia, tri, black, green, gold, red=None):
    sns.scatterplot(x=time_s, y=xs, marker='x', s=160, color='#0000FF',
                    linewidth=2.5, ax=ax, zorder=2)
    sns.scatterplot(x=time_s, y=dia, marker=diamond, s=1000, facecolor='none',
                    edgecolor='#00FFFF', linewidth=2.4, ax=ax, zorder=2)
    sns.scatterplot(x=time_s, y=tri, marker='^', s=190, facecolor='none',
                    edgecolor='#FF6633', linewidth=2.5, ax=ax, zorder=2)
    sns.lineplot(x=time_s, y=black, color='black', linewidth=9, ax=ax, zorder=3)
    if red is not None:
        sns.lineplot(x=time_s, y=red, color='#FF0000', linewidth=9, ax=ax, zorder=3)
    sns.lineplot(x=time_s, y=green, color='#66CC11', linewidth=8.5, ax=ax, zorder=4)
    sns.lineplot(x=time_s, y=gold, color='#EDB120', linewidth=6.5, ax=ax, zorder=5)


draw(ax1, vn_x, vn_dia, vn_tri, vn_black, vn_green, vn_gold)
draw(ax2, ve_x, ve_dia, ve_tri, ve_black, ve_green, ve_gold)
draw(ax3, vd_x, vd_dia, vd_tri, vd_black, vd_green, vd_gold, red=vd_red)

panels = [(ax1, 'Vn', (-10, 11), [-10, 0, 10]),
          (ax2, 'Ve', (-6, 12), [-5, 0, 5, 10]),
          (ax3, 'Vd', (-5, 5), [-5, 0, 5])]

for ax, name, ylim, yt in panels:
    ax.set_xlim(450, 1350)
    ax.set_ylim(*ylim)
    ax.set_xticks(x_ticks)
    ax.set_yticks(yt)
    ax.set_xlabel('')
    ax.set_ylabel('')
    ax.grid(True, color='#E4E4E4', linewidth=2.5)
    ax.set_axisbelow(True)
    for sp in ax.spines.values():
        sp.set_visible(True)
        sp.set_color('#7A7A7A')
        sp.set_linewidth(1.5)
        sp.set_zorder(6)
    ax.tick_params(direction='in', length=15, width=1.3, color='#666666',
                   top=True, right=True, bottom=True, left=True,
                   labelsize=30, labelcolor='#404040', pad=9)
    ax.set_title(name, fontsize=30, fontweight='bold', color='black', pad=15)
    ax.text(0.033, 0.875, '(m/s)', transform=ax.transAxes, fontsize=30,
            fontweight='bold', color='#262626', va='center', ha='left', zorder=7)
    if ax is not ax3:
        ax.tick_params(labelbottom=False)

for lab in ax3.get_xticklabels():
    lab.set_rotation(25)
    lab.set_ha('right')
    lab.set_va('top')
    lab.set_rotation_mode('anchor')
    lab.set_fontsize(29)

fig.text(0.524, 0.022, 'Time (sec)', fontsize=30, fontweight='bold',
         color='#1a1a1a', ha='center', va='center')

fig.savefig('out.png', dpi=100)
